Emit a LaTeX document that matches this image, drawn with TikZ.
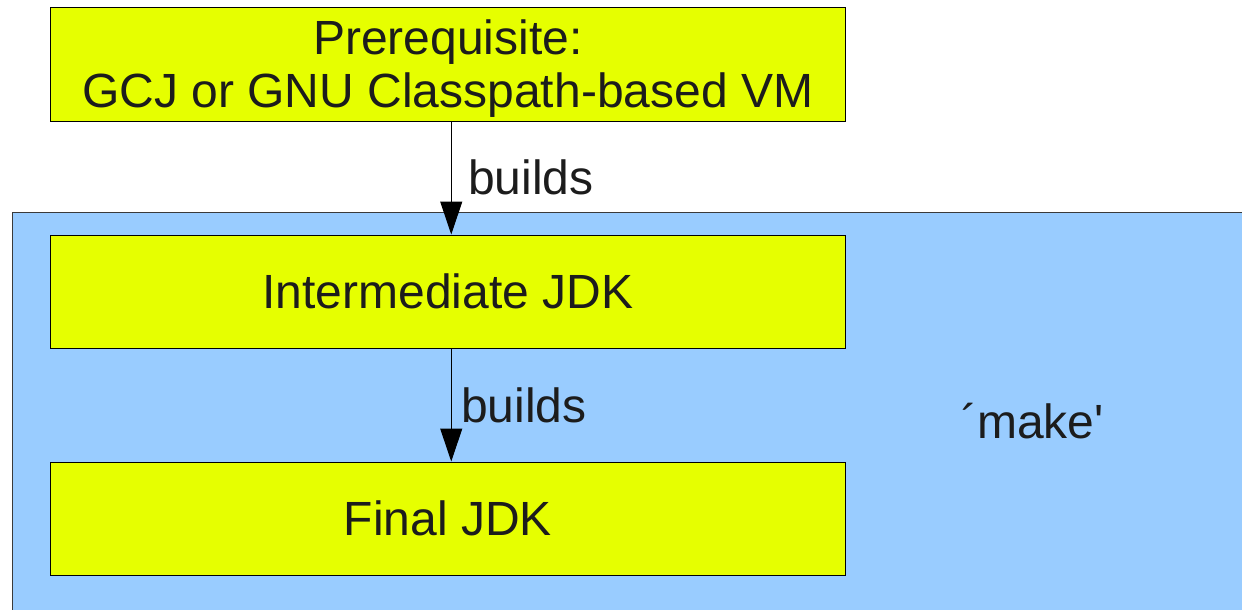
\documentclass[tikz,border=0pt]{standalone}
\usepackage{fontspec}
\setmainfont{Liberation Sans}
\usetikzlibrary{arrows.meta}
\definecolor{boxyellow}{HTML}{E6FF00}
\definecolor{areablue}{HTML}{99CCFF}
\definecolor{txtcol}{HTML}{1C1C1C}
\definecolor{areaedge}{HTML}{3A3A3A}
\tikzset{
  stagebox/.style={draw=black, line width=1pt, fill=boxyellow, minimum width=794.5pt, minimum height=113pt, inner sep=0pt},
  bigtext/.style={font=\fontsize{48}{53.6}\selectfont, text=txtcol, inner sep=0pt},
  oneline/.style={text height=43.44pt, text depth=10.18pt},
  buildarrow/.style={draw=black, line width=1pt, -{Triangle[width=22pt,length=33pt]}},
}
\begin{document}
\begin{tikzpicture}[x=1pt,y=-1pt]
\clip (0,0) rectangle (1242,610);
\fill[white] (0,0) rectangle (1242,610);
% make area
\node[draw=areaedge, line width=1pt, fill=areablue, anchor=north west, minimum width=1260pt, minimum height=420pt, inner sep=0pt] (makearea) at (12,212) {};
\node[bigtext, anchor=base] (maketext) at (1032.5,438) {´make\textquotesingle};
% boxes
\node[stagebox] (pre) at (447.75,64.5) {};
\node[bigtext, anchor=base] (preline1) at (447.75,54.3) {Prerequisite:};
\node[bigtext, anchor=base] (preline2) at (447.75,107.9) {GCJ or GNU Classpath-based VM};
\node[stagebox, bigtext, oneline] (mid) at (447.75,291.5) {Intermediate JDK};
\node[stagebox, bigtext, oneline] (fin) at (447.75,518.5) {Final JDK};
% arrows
\draw[buildarrow] ([xshift=3.5pt]pre.south) -- ([xshift=3.5pt]mid.north);
\draw[buildarrow] ([xshift=3.5pt]mid.south) -- ([xshift=3.5pt]fin.north);
\node[bigtext, anchor=base west] (build1) at (468,194) {builds};
\node[bigtext, anchor=base west] (build2) at (461,422.3) {builds};
\end{tikzpicture}
\end{document}
